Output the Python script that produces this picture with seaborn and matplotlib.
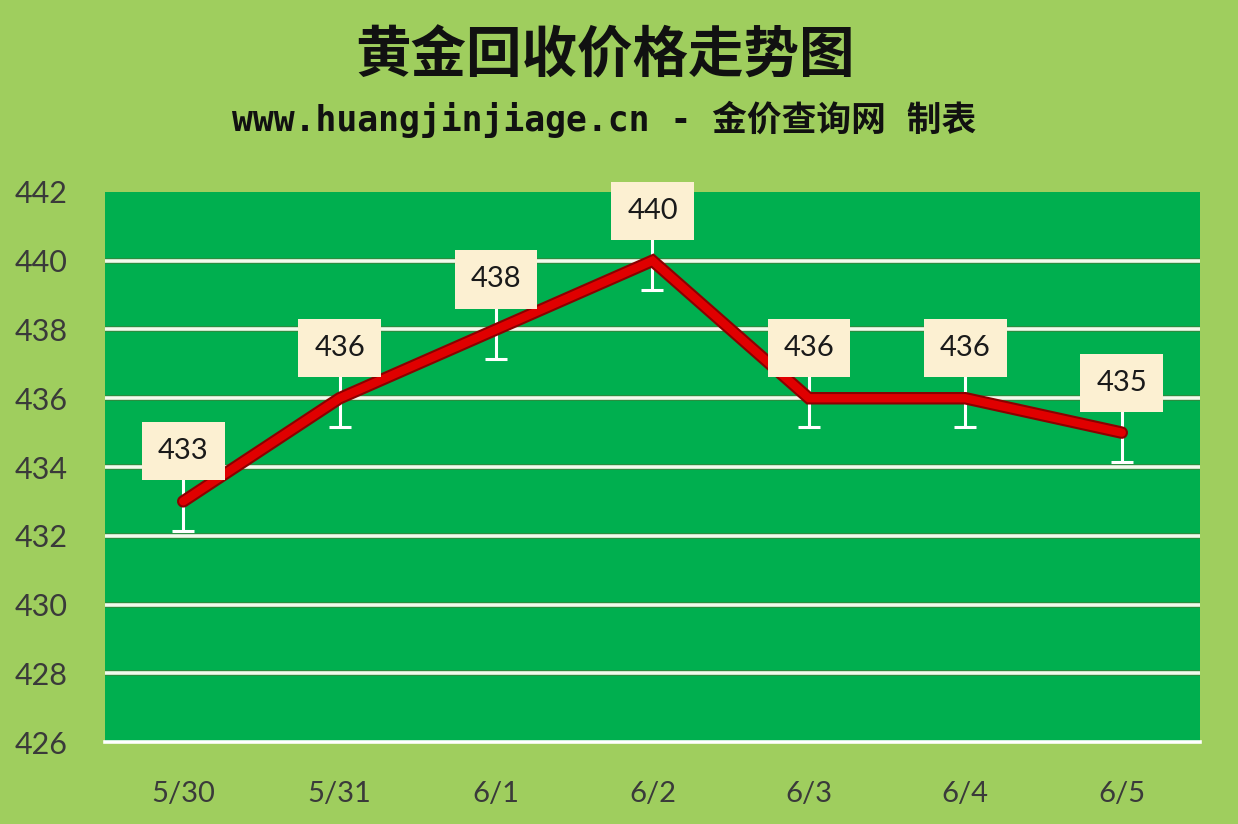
import matplotlib
matplotlib.use("Agg")
import matplotlib.pyplot as plt
import seaborn as sns
import pandas as pd
import numpy as np

dates = ["5/30", "5/31", "6/1", "6/2", "6/3", "6/4", "6/5"]
prices = [433, 436, 438, 440, 436, 436, 435]
err = [0.85] * 7
yticks = [426, 428, 430, 432, 434, 436, 438, 440, 442]

title = "黄金回收价格走势图"
subtitle = "www.huangjinjiage.cn - 金价查询网 制表"

sns.set_theme(style="white")
plt.rcParams['font.family'] = ['Lato', 'Noto Sans CJK SC', 'DejaVu Sans']

BG = "#9FCE5E"
PLOT = "#00AF4F"

fig = plt.figure(figsize=(12.38, 8.24), dpi=100, facecolor=BG)
ax = fig.add_axes([0.0848, 0.0995, 0.8845, 0.6675])
ax.set_facecolor(PLOT)

df = pd.DataFrame({"date": dates, "price": prices, "x": np.arange(len(dates))})

# grid lines
for v in yticks[1:-1]:
    ax.axhline(v, color="#2E8B3E", lw=4.2, zorder=1)
    ax.axhline(v, color="#F2FAEC", lw=2.6, zorder=1.1)

ax.errorbar(df["x"], df["price"], yerr=err, fmt="none", ecolor="white",
            elinewidth=2.2, capsize=8, capthick=2.2, zorder=2)

sns.lineplot(data=df, x="x", y="price", ax=ax, color="#8B0000", lw=9,
             zorder=3, solid_capstyle="round", solid_joinstyle="miter")
sns.lineplot(data=df, x="x", y="price", ax=ax, color="#E00000", lw=6,
             zorder=3.1, solid_capstyle="round", solid_joinstyle="miter")

for xi, p in zip(df["x"], prices):
    ax.annotate(f"{p}", (xi, p), xytext=(0, 36), textcoords="offset points",
                ha="center", va="center", fontsize=21, color="#1A1A1A",
                family=["Lato", "DejaVu Sans"], zorder=5,
                bbox=dict(boxstyle="square,pad=0.55", fc="#FCF0D2", ec="none"))

ax.set_xlim(-0.5, len(dates) - 0.5)
ax.set_ylim(426, 442)
ax.set_yticks(yticks)
ax.set_yticklabels([str(v) for v in yticks])
ax.set_xticks(df["x"])
ax.set_xticklabels(dates)
ax.set_xticks(np.arange(-0.5, len(dates)), minor=True)
ax.tick_params(axis="x", which="major", length=0, pad=28, labelsize=21,
               labelcolor="#3A3A3A")
ax.tick_params(axis="x", which="minor", length=9, width=2.2, color="white",
               direction="out")
ax.tick_params(axis="y", length=0, pad=27, labelsize=22, labelcolor="#3A3A3A")
ax.set_xlabel("")
ax.set_ylabel("")
for s in ["top", "right", "left"]:
    ax.spines[s].set_visible(False)
ax.spines["bottom"].set_color("white")
ax.spines["bottom"].set_linewidth(2.6)

fig.text(0.489, 0.932, title, ha="center", va="center", fontsize=40,
         fontweight="bold", color="#111111",
         family=["Noto Sans CJK SC", "DejaVu Sans"])
fig.text(0.488, 0.855, subtitle, ha="center", va="center", fontsize=25,
         fontweight="bold", color="#111111",
         family=["DejaVu Sans Mono", "Noto Sans CJK SC"])

fig.savefig("out.png", dpi=100, facecolor=BG)
